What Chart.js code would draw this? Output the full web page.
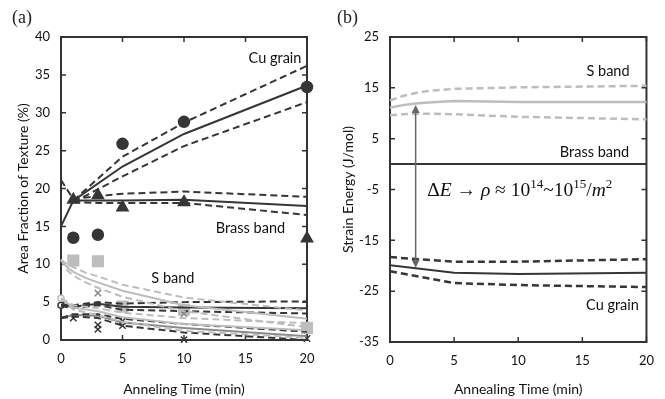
<!DOCTYPE html>
<html>
<head>
<meta charset="utf-8">
<script src="https://cdn.jsdelivr.net/npm/chart.js@4.4.1/dist/chart.umd.min.js"></script>
<style>
  body { margin: 0; background: #fff; }
  #wrap { position: relative; width: 665px; height: 399px; }
  canvas { position: absolute; top: 0; }
  #chartA { left: 0; }
  #chartB { left: 330px; }
  .panel { position: absolute; font-family: 'Liberation Serif', serif; font-size: 18px; color: #222; }
</style>
</head>
<body>
<div id="wrap">
  <canvas id="chartA" width="330" height="399"></canvas>
  <canvas id="chartB" width="335" height="399"></canvas>
  <div class="panel" style="left:12px;top:7px">(a)</div>
  <div class="panel" style="left:337px;top:7px">(b)</div>
</div>
<script>
// (a) area fraction of texture
var xTicksA = [0, 5, 10, 15, 20];
var yTicksA = [0, 5, 10, 15, 20, 25, 30, 35, 40];

// Cu grain
var cuTime = [1, 3, 5, 10, 20];
var cuArea = [13.5, 13.9, 25.9, 28.8, 33.4];
var cuFitTime = [1, 5, 10, 20];
var cuFit = [18.4, 22.9, 27.2, 33.6];
var cuFitHi = [18.4, 24.2, 28.7, 36.2];
var cuFitLo = [18.2, 21.6, 25.6, 31.4];

// Brass band
var brassTime = [1, 3, 5, 10, 20];
var brassArea = [18.5, 19.1, 17.5, 18.2, 13.4];
var brassFitTime = [0, 1, 3, 5, 10, 20];
var brassFit = [15.0, 18.4, 18.4, 18.4, 18.5, 17.7];
var brassFitHi = [21.1, 18.6, 19.0, 19.3, 19.6, 18.9];
var brassLoTime = [1, 3, 5, 10, 20];
var brassFitLo = [18.2, 18.1, 18.1, 18.1, 16.5];

// S band
var sTime = [1, 3, 5, 10, 20];
var sArea = [10.5, 10.4, 4.4, 4.0, 1.6];
var sFitTime = [0, 0.5, 1, 2, 3, 5, 10, 20];
var sFit = [10.6, 9.6, 9.0, 8.2, 7.6, 6.5, 4.6, 2.8];
var sFitHi = [10.6, 10.0, 9.6, 8.9, 8.4, 7.3, 5.6, 3.9];
var sFitLo = [10.6, 9.2, 8.5, 7.6, 6.9, 5.7, 3.8, 1.7];

// other components (dark circles / dark crosses / light crosses)
var dTime = [0];
var dArea = [4.6];
var dFitTime = [0, 1, 3, 5, 10, 20];
var dFit = [4.6, 4.4, 4.8, 4.4, 4.3, 4.2];
var dFitHi = [4.7, 4.6, 5.0, 4.8, 5.0, 5.1];
var dFitLo = [4.5, 4.2, 4.6, 4.0, 3.8, 3.5];

var eTime = [1, 3, 3, 5, 5, 10, 20];
var eArea = [2.9, 2.0, 1.4, 2.5, 1.9, 0.05, 0.2];
var eFitTime = [0, 1, 3, 5, 10, 20];
var eFit = [2.9, 3.3, 3.2, 2.3, 1.6, 0.5];
var eFitHi = [2.9, 3.4, 3.4, 2.8, 2.1, 1.1];
var eFitLo = [2.9, 3.1, 2.9, 1.9, 1.0, 0.0];

var fZeroTime = [0];
var fZeroArea = [5.5];
var fTime = [3, 10];
var fArea = [6.2, 3.5];
var fFitTime = [0, 1, 3, 5, 10, 20];
var fFit = [5.5, 4.3, 3.8, 3.0, 2.1, 1.3];
var fFitHi = [5.5, 4.6, 4.2, 3.6, 2.9, 2.2];
var fFitLo = [5.5, 4.0, 3.3, 2.4, 1.2, 0.3];

// (b) strain energy
var xTicksB = [0, 5, 10, 15, 20];
var yTicksB = [-35, -25, -15, -5, 5, 15, 25];

var sEnTime = [0, 1, 2, 3, 5, 10, 20];
var sEn = [11.1, 11.6, 11.9, 12.1, 12.4, 12.2, 12.2];
var sEnHi = [12.5, 13.4, 14.0, 14.4, 14.8, 15.1, 15.4];
var sEnLo = [9.6, 9.8, 9.9, 9.9, 9.8, 9.3, 8.8];

var brassEnTime = [0, 20];
var brassEn = [0, 0];

var cuEnTime = [0, 5, 10, 20];
var cuEn = [-19.9, -21.4, -21.6, -21.4];
var cuEnHi = [-18.3, -19.2, -19.2, -18.7];
var cuEnLo = [-21.1, -23.4, -23.8, -24.2];

var arrowTime = [2, 2];
var arrowEn = [11.6, -20.4];

var FONT = 'Lato, sans-serif';
var DARK = '#363636';
var LIGHT = '#bdbdbd';
var MID = '#8a8a8a';

function pts(xs, ys) {
    return xs.map(function (x, i) { return { x: x, y: ys[i] }; });
}

function fit(xs, ys, color, dashed, width) {
    return {
        data: pts(xs, ys),
        borderColor: color,
        borderWidth: width || 2,
        borderDash: dashed ? [7, 4] : [],
        pointRadius: 0,
        fill: false,
        tension: 0,
        clip: false
    };
}

function marks(xs, ys, style, color, r, fillColor) {
    return {
        data: pts(xs, ys),
        showLine: false,
        pointStyle: style,
        pointRadius: r,
        pointHoverRadius: r,
        backgroundColor: fillColor || color,
        borderColor: color,
        borderWidth: 1.5,
        clip: false
    };
}

// box with inward ticks on all four sides
var frame = {
    id: 'frame',
    beforeDatasetsDraw: function (chart) {
        var ctx = chart.ctx, a = chart.chartArea, x = chart.scales.x, y = chart.scales.y;
        ctx.save();
        ctx.strokeStyle = '#333';
        ctx.lineWidth = 2;
        ctx.strokeRect(a.left, a.top, a.right - a.left, a.bottom - a.top);
        ctx.lineWidth = 1.5;
        ctx.beginPath();
        x.ticks.forEach(function (t) {
            var px = x.getPixelForValue(t.value);
            ctx.moveTo(px, a.bottom); ctx.lineTo(px, a.bottom - 5);
            ctx.moveTo(px, a.top); ctx.lineTo(px, a.top + 5);
        });
        y.ticks.forEach(function (t) {
            var py = y.getPixelForValue(t.value);
            ctx.moveTo(a.left, py); ctx.lineTo(a.left + 5, py);
            ctx.moveTo(a.right, py); ctx.lineTo(a.right - 5, py);
        });
        ctx.stroke();
        ctx.restore();
    }
};

// text labels, the arrow and the formula
var notes = {
    id: 'notes',
    afterDatasetsDraw: function (chart, args, opts) {
        var ctx = chart.ctx, x = chart.scales.x, y = chart.scales.y;
        ctx.save();
        ctx.fillStyle = '#111';
        ctx.textAlign = 'center';
        ctx.textBaseline = 'middle';
        ctx.font = '14.5px ' + FONT;
        (opts.items || []).forEach(function (it) {
            ctx.fillText(it.text, x.getPixelForValue(it.x), y.getPixelForValue(it.y));
        });
        if (opts.arrow) {
            var ax = x.getPixelForValue(opts.arrow.x[0]);
            var y1 = y.getPixelForValue(opts.arrow.y[0]);
            var y2 = y.getPixelForValue(opts.arrow.y[1]);
            ctx.strokeStyle = '#666';
            ctx.fillStyle = '#666';
            ctx.lineWidth = 1.5;
            ctx.beginPath();
            ctx.moveTo(ax, y1 + 6); ctx.lineTo(ax, y2 - 6);
            ctx.stroke();
            ctx.beginPath();
            ctx.moveTo(ax, y1); ctx.lineTo(ax - 4, y1 + 8); ctx.lineTo(ax + 4, y1 + 8); ctx.closePath();
            ctx.moveTo(ax, y2); ctx.lineTo(ax - 4, y2 - 8); ctx.lineTo(ax + 4, y2 - 8); ctx.closePath();
            ctx.fill();
        }
        if (opts.formula) {
            var fx = x.getPixelForValue(opts.formula.x);
            var fy = y.getPixelForValue(opts.formula.y);
            ctx.fillStyle = '#111';
            ctx.textAlign = 'left';
            ctx.textBaseline = 'alphabetic';
            opts.formula.parts.forEach(function (p) {
                var size = p[2] ? 13 : 19.5;
                ctx.font = (p[1] ? 'italic ' : '') + size + "px 'Liberation Serif', 'DejaVu Serif', serif";
                ctx.fillText(p[0], fx, fy + 6 - (p[2] ? 8 : 0));
                fx += ctx.measureText(p[0]).width;
            });
        }
        ctx.restore();
    }
};

function axis(ticks, min, max, size, title, titlePad, isX) {
    return {
        type: 'linear',
        min: min,
        max: max,
        afterBuildTicks: function (s) {
            s.ticks = ticks.map(function (v) { return { value: v }; });
        },
        afterFit: function (s) {
            if (isX) { s.height = size; } else { s.width = size; }
        },
        grid: { display: false, drawTicks: false },
        border: { display: false },
        ticks: {
            padding: 11,
            color: '#111',
            maxRotation: 0,
            autoSkip: false,
            font: { family: FONT, size: 13 }
        },
        title: {
            display: true,
            text: title,
            color: '#111',
            padding: titlePad,
            font: { family: FONT, size: 14 }
        }
    };
}

var common = {
    responsive: false,
    animation: false,
    devicePixelRatio: 1,
    events: [],
    plugins: { legend: { display: false }, tooltip: { enabled: false } }
};

new Chart(document.getElementById('chartA').getContext('2d'), {
    type: 'line',
    data: {
        datasets: [
            fit(fFitTime, fFitHi, LIGHT, true),
            fit(fFitTime, fFitLo, LIGHT, true),
            fit(fFitTime, fFit, LIGHT, false),
            fit(sFitTime, sFitHi, LIGHT, true),
            fit(sFitTime, sFitLo, LIGHT, true),
            fit(sFitTime, sFit, LIGHT, false),
            fit(eFitTime, eFitHi, DARK, true),
            fit(eFitTime, eFitLo, DARK, true),
            fit(eFitTime, eFit, MID, false),
            fit(dFitTime, dFitHi, DARK, true),
            fit(dFitTime, dFitLo, DARK, true),
            fit(dFitTime, dFit, DARK, false),
            fit(brassFitTime, brassFitHi, DARK, true),
            fit(brassLoTime, brassFitLo, DARK, true),
            fit(brassFitTime, brassFit, DARK, false),
            fit(cuFitTime, cuFitHi, DARK, true),
            fit(cuFitTime, cuFitLo, DARK, true),
            fit(cuFitTime, cuFit, DARK, false),
            marks(fZeroTime, fZeroArea, 'circle', LIGHT, 3, '#fff'),
            marks(dTime, dArea, 'circle', DARK, 3, '#fff'),
            marks(fTime, fArea, 'crossRot', MID, 4.5),
            marks(eTime, eArea, 'crossRot', DARK, 4.5),
            marks(sTime, sArea, 'rect', LIGHT, 7.5),
            marks(brassTime, brassArea, 'triangle', DARK, 6.5),
            marks(cuTime, cuArea, 'circle', DARK, 5.5)
        ]
    },
    options: Object.assign({}, common, {
        layout: { padding: { top: 37, right: 23, left: 0, bottom: 0 } },
        scales: {
            x: axis(xTicksA, 0, 20, 59, 'Anneling Time (min)', { top: 0, bottom: 1 }, true),
            y: axis(yTicksA, 0, 40, 61, 'Area Fraction of Texture (%)', { top: 15, bottom: 0 }, false)
        },
        plugins: Object.assign({}, common.plugins, {
            notes: {
                items: [
                    { text: 'Cu grain', x: 17.4, y: 37.2 },
                    { text: 'Brass band', x: 15.4, y: 14.8 },
                    { text: 'S band', x: 9.1, y: 8.2 }
                ]
            }
        })
    }),
    plugins: [frame, notes]
});

new Chart(document.getElementById('chartB').getContext('2d'), {
    type: 'line',
    data: {
        datasets: [
            fit(sEnTime, sEnHi, LIGHT, true, 2.5),
            fit(sEnTime, sEnLo, LIGHT, true, 2.5),
            fit(sEnTime, sEn, LIGHT, false, 2.5),
            fit(brassEnTime, brassEn, DARK, false, 2),
            fit(cuEnTime, cuEnHi, DARK, true, 2.5),
            fit(cuEnTime, cuEnLo, DARK, true, 2.5),
            fit(cuEnTime, cuEn, DARK, false, 2)
        ]
    },
    options: Object.assign({}, common, {
        layout: { padding: { top: 37, right: 18, left: 0, bottom: 0 } },
        scales: {
            x: axis(xTicksB, 0, 20, 57, 'Annealing Time (min)', { top: 0, bottom: 1 }, true),
            y: axis(yTicksB, -35, 25, 60, 'Strain Energy (J/mol)', { top: 10, bottom: 0 }, false)
        },
        plugins: Object.assign({}, common.plugins, {
            notes: {
                items: [
                    { text: 'S band', x: 17.0, y: 18.3 },
                    { text: 'Brass band', x: 15.95, y: 2.4 },
                    { text: 'Cu grain', x: 17.35, y: -27.7 }
                ],
                arrow: { x: arrowTime, y: arrowEn },
                formula: {
                    x: 2.9,
                    y: -5.1,
                    parts: [
                        ['\u0394', false, false], ['E', true, false], [' \u2192 ', false, false],
                        ['\u03C1', true, false], [' \u2248 10', false, false], ['14', false, true],
                        ['~10', false, false], ['15', false, true], ['/', false, false],
                        ['m', true, false], ['2', false, true]
                    ]
                }
            }
        })
    }),
    plugins: [frame, notes]
});
</script>
</body>
</html>
